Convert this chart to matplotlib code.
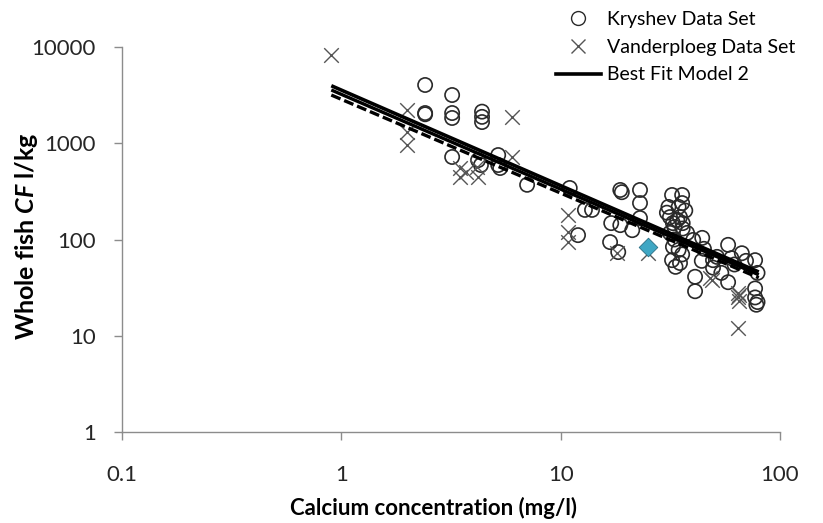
import numpy as np
import matplotlib
matplotlib.use("Agg")
import matplotlib.pyplot as plt
from matplotlib.lines import Line2D

plt.rcParams['font.family'] = ['Lato', 'DejaVu Sans']
plt.rcParams['mathtext.fontset'] = 'custom'
plt.rcParams['mathtext.bfit'] = 'Lato:bold:italic'

# Kryshev data set (calcium mg/l, whole fish CF l/kg)
kryshevCa = [2.41, 2.41, 2.41, 3.2, 3.2, 3.2, 3.2, 4.38, 4.38, 4.38, 4.2, 4.33,
             5.19, 5.19, 5.3, 7.03, 11.0, 12.9, 13.9, 12.0,
             18.7, 19.0, 23, 23, 23, 17, 18.7, 21.2, 16.8, 18.3,
             32.2, 35.8, 31, 34.5, 35.8, 31.5, 35, 32.5, 36, 37.7, 31.5, 32.5, 34.5,
             32.2, 35, 33.4, 35.8, 33, 36, 30.5, 37, 34, 33,
             40.2, 44.2, 41, 41, 49.5, 51.6, 58, 58, 67, 60, 77, 79, 77, 77, 79, 78,
             49.5, 44, 54, 62, 70, 45]
kryshevCF = [4030, 2060, 2000, 3170, 2060, 1830, 720, 2130, 1880, 1660, 667, 594,
             754, 594, 553, 370, 343, 203, 203, 111,
             327, 310, 327, 239, 167, 148, 141, 125, 94, 74,
             290, 290, 218, 218, 239, 171, 171, 148, 148, 117, 117, 84, 78,
             61, 57, 52, 70, 100, 130, 190, 200, 160, 135,
             99, 104, 41, 29, 51, 66, 88, 36, 72, 64, 61, 45, 31, 25, 22.4, 21,
             61, 60, 45, 55, 60, 80]

# Vanderploeg data set
vanderCa = [0.9, 2.0, 2.0, 2.0, 3.47, 3.47, 3.7, 4.16, 4.2, 6.0, 6.0,
            10.8, 10.8, 10.8, 18.1, 25, 48, 48.8, 64.4, 64.4, 65, 65, 64.4]
vanderCF = [8260, 2215, 1300, 950, 553, 446, 500, 566, 446, 1875, 720,
            180, 120, 94, 72, 72, 40, 38, 27.8, 25, 23, 26.5, 12]

# extra highlighted point
highlightCa = [25]
highlightCF = [84]

# best fit model 2 and its bounds
fitCa = [0.9, 80]
fitUpper = [3960, 46]
fitMid = [3575, 43]
fitLower = [3170, 40]

fig = plt.figure(figsize=(8.23, 5.23), dpi=100)
ax = fig.add_axes([122 / 823, 1 - 432 / 523, 658 / 823, 385 / 523])

ax.plot(fitCa, fitUpper, color='black', lw=2.6, solid_capstyle='butt', zorder=3)
ax.plot(fitCa, fitMid, color='black', lw=2.4, solid_capstyle='butt', zorder=3)
ax.plot(fitCa, fitLower, color='black', lw=2.4, ls=(0, (3, 1.2)), zorder=3)

ax.scatter(kryshevCa, kryshevCF, s=105, facecolors='none', edgecolors='#2a2a2a',
           linewidths=1.2, zorder=2)
ax.scatter(vanderCa, vanderCF, s=110, marker='x', color='#555555',
           linewidths=1.0, zorder=2)
ax.scatter(highlightCa, highlightCF, s=90, marker='D', color='#3fa7c4',
           edgecolors='#2a6f85', linewidths=0.6, zorder=2)

ax.set_xscale('log')
ax.set_yscale('log')
ax.set_xlim(0.1, 100)
ax.set_ylim(1, 10000)
ax.set_xticks([0.1, 1, 10, 100])
ax.set_xticklabels(['0.1', '1', '10', '100'])
ax.set_yticks([1, 10, 100, 1000, 10000])
ax.set_yticklabels(['1', '10', '100', '1000', '10000'])
ax.minorticks_off()

for side in ['top', 'right']:
    ax.spines[side].set_visible(False)
for side in ['left', 'bottom']:
    ax.spines[side].set_color('#8c8c8c')
    ax.spines[side].set_linewidth(1.0)
ax.tick_params(direction='out', length=6, width=1.0, color='#8c8c8c',
               labelsize=16, labelcolor='#262626', pad=13)
ax.tick_params(axis='x', pad=18)

ax.set_xlabel('Calcium concentration (mg/l)', fontsize=16, fontweight='bold')
ax.xaxis.set_label_coords(0.474, -0.168)
ax.set_ylabel(r'Whole fish $\mathbfit{CF}$ l/kg', fontsize=18, fontweight='bold')
ax.yaxis.set_label_coords(-0.125, 0.51)

handles = [
    Line2D([], [], ls='none', marker='o', markersize=10, markerfacecolor='none',
           markeredgecolor='#2a2a2a', markeredgewidth=1.0),
    Line2D([], [], ls='none', marker='x', markersize=10, color='#555555',
           markeredgewidth=1.0),
    Line2D([], [], color='black', lw=2.6),
]
fig.legend(handles, ['Kryshev Data Set', 'Vanderploeg Data Set', 'Best Fit Model 2'],
           loc='upper left', bbox_to_anchor=(556 / 823, 1 - 11 / 523), frameon=False,
           fontsize=14, handlelength=2.3, handletextpad=0.3, labelspacing=0.55,
           borderaxespad=0, borderpad=0)

fig.savefig('out.png', dpi=100)
